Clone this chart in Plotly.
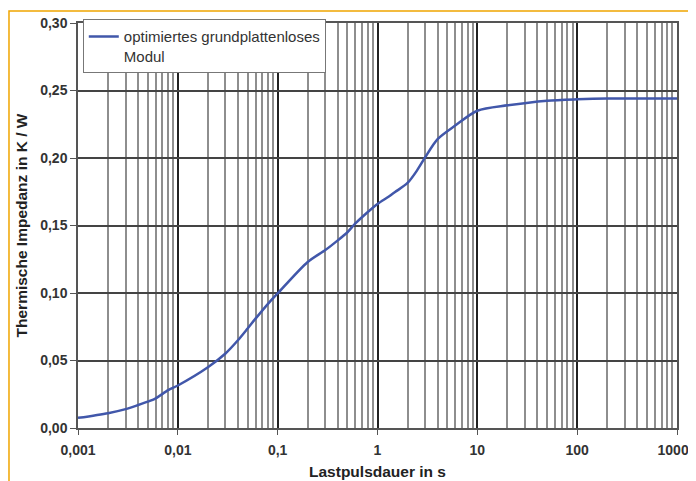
import plotly.graph_objects as go

# Data
pulse_s = [0.001, 0.002, 0.003, 0.004, 0.005, 0.006, 0.008, 0.01, 0.02, 0.03,
           0.04, 0.05, 0.06, 0.08, 0.1, 0.2, 0.3, 0.4, 0.5, 0.6, 0.8, 1, 1.3,
           1.5, 2, 2.5, 3, 4, 6, 10, 20, 50, 100, 200, 500, 1000]
zth = [0.0075, 0.011, 0.014, 0.017, 0.0195, 0.022, 0.028, 0.0315, 0.045, 0.0552,
       0.065, 0.0737, 0.081, 0.092, 0.0997, 0.123, 0.1318, 0.139, 0.145, 0.1515,
       0.160, 0.166, 0.1715, 0.1748, 0.1815, 0.191, 0.2005, 0.214, 0.224, 0.235,
       0.239, 0.2425, 0.2435, 0.244, 0.244, 0.244]

x_tickvals = [0.001, 0.01, 0.1, 1, 10, 100, 1000]
x_ticktext = ["0,001", "0,01", "0,1", "1", "10", "100", "1000&nbsp;&nbsp;"]
x_minor = [m * 10 ** e for e in range(-3, 3) for m in range(2, 10)]
y_tickvals = [0.00, 0.05, 0.10, 0.15, 0.20, 0.25, 0.30]

series_name = "optimiertes grundplattenloses<br>Modul"

fig = go.Figure()
fig.add_trace(go.Scatter(
    x=pulse_s, y=zth, mode="lines", name=series_name,
    line=dict(color="#4157AA", width=2.5, shape="spline", smoothing=0.8),
    showlegend=True,
))

fig.update_layout(
    width=688, height=473,
    margin=dict(l=70, r=19, t=14, b=53),
    paper_bgcolor="white", plot_bgcolor="white",
    separators=",.",
    font=dict(family="Liberation Sans, Arial, sans-serif", color="#333333"),
    showlegend=True,
    legend=dict(
        x=0.008, y=1.007, xanchor="left", yanchor="top",
        bgcolor="white", bordercolor="#777777", borderwidth=1,
        font=dict(size=15, color="#333333"),
        valign="top", itemwidth=30,
    ),
    shapes=[dict(
        type="rect", xref="paper", yref="paper",
        x0=-0.1152, x1=1.030, y0=-0.3, y1=1.0296,
        line=dict(color="#F0A500", width=1.5), layer="below",
    )],
)

fig.update_xaxes(
    type="log", range=[-3, 3], automargin=False,
    tickvals=x_tickvals, ticktext=x_ticktext, ticklabeloverflow="allow",
    ticks="outside", ticklen=5, tickcolor="#555555", ticklabelstandoff=3,
    tickfont=dict(size=14, color="#333333", family="Liberation Sans, Arial, sans-serif", weight="bold"),
    showgrid=True, gridcolor="#222222", gridwidth=1.5,
    minor=dict(tickvals=x_minor, showgrid=True, gridcolor="#8E8E8E", gridwidth=1.5, ticks=""),
    showline=True, linecolor="#555555", linewidth=1.5, mirror=True,
    zeroline=False,
    title=dict(text="<b>Lastpulsdauer in s</b>", font=dict(size=15.5, color="#222222"), standoff=10),
)
fig.update_yaxes(
    range=[0, 0.30], tickvals=y_tickvals, tickformat=".2f", automargin=False,
    ticks="outside", ticklen=6, tickcolor="#555555",
    tickfont=dict(size=14, color="#333333", family="Liberation Sans, Arial, sans-serif", weight="bold"),
    showgrid=True, gridcolor="#444444", gridwidth=1.5,
    showline=True, linecolor="#555555", linewidth=1.5, mirror=True,
    zeroline=False,
    title=dict(text="<b>Thermische Impedanz in K / W</b>", font=dict(size=15.5, color="#222222"), standoff=9),
)

fig.write_html("out.html")
